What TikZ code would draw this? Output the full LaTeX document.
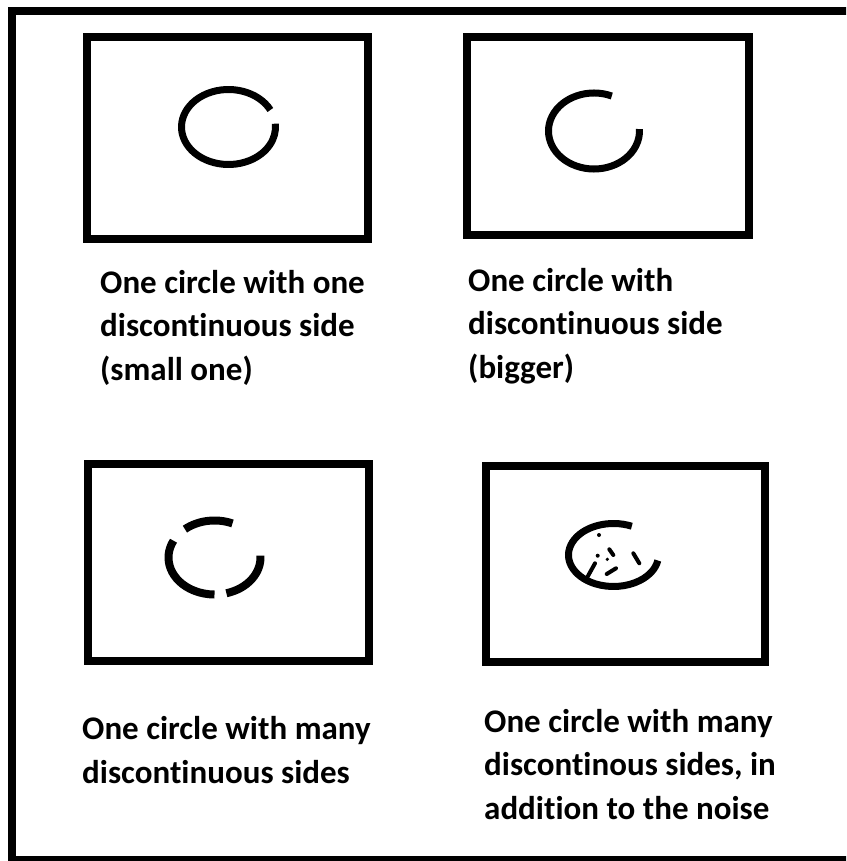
\documentclass[tikz,border=0pt]{standalone}
\usepackage{fontspec}
\setmainfont{Carlito}[Ligatures=NoCommon]
\begin{document}
\begin{tikzpicture}[x=1pt,y=-1pt,
  frame/.style={draw=black,line width=8pt},
  ring/.style={draw=black,line width=7pt,line cap=butt},
  noise/.style={draw=black,line width=4pt,line cap=round},
  caption/.style={font=\fontsize{33}{43.5}\selectfont\bfseries,align=left,anchor=base west,inner sep=0pt}]
\useasboundingbox (0,0) rectangle (846,861);
\clip (0,0) rectangle (846,861);
\fill[white] (0,0) rectangle (846,861);
% outer frame
\draw[frame] (12,11) rectangle (856,860);
% boxes
\draw[frame] (86.5,37) rectangle (367.5,239);
\draw[frame] (467,37) rectangle (749,234.5);
\draw[frame] (87.5,463.5) rectangle (369,660.5);
\draw[frame] (486,466) rectangle (765,662);
% circle 1
\coordinate (c1) at (228.5,127);
\draw[ring] (c1) ++(-27:47 and 37.5) arc[start angle=-27,end angle=-365,x radius=47,y radius=37.5];
% circle 2
\coordinate (c2) at (594,131);
\draw[ring] (c2) ++(-67:45.5 and 38) arc[start angle=-67,end angle=-363,x radius=45.5,y radius=38];
% circle 3
\coordinate (c3) at (214.5,557.5);
\draw[ring,line width=8pt] (c3) ++(-67:46 and 37) arc[start angle=-67,end angle=-130,x radius=46,y radius=37];
\draw[ring,line width=8pt] (c3) ++(-153:46 and 37) arc[start angle=-153,end angle=-270,x radius=46,y radius=37];
\draw[ring,line width=8pt] (c3) ++(-285:46 and 37) arc[start angle=-285,end angle=-363,x radius=46,y radius=37];
% circle 4 with noise
\coordinate (c4) at (613.5,555);
\draw[ring] (c4) ++(-66:45 and 31.5) arc[start angle=-66,end angle=-350,x radius=45,y radius=31.5];
\fill (599,535) circle[radius=2];
\fill (597.7,555.7) circle[radius=2];
\fill (607.3,559.3) circle[radius=1.8];
\draw[noise] (609.3,549.3) -- (613.3,555);
\draw[noise] (595,563.3) -- (586.7,578.3);
\draw[noise] (616,568.3) -- (606.7,574);
\draw[noise] (633.3,553.3) -- (639.3,563.3);
% captions (base = baseline of the last line)
\node[caption] (t1) at (100,380) {One circle with one\\discontinuous side\\(small one)};
\node[caption] (t2) at (468,378) {One circle with\\discontinuous side\\(bigger)};
\node[caption] (t3) at (82,783) {One circle with many\\discontinuous sides};
\node[caption] (t4) at (484,819) {One circle with many\\discontinous sides, in\\addition to the noise};
\end{tikzpicture}
\end{document}
